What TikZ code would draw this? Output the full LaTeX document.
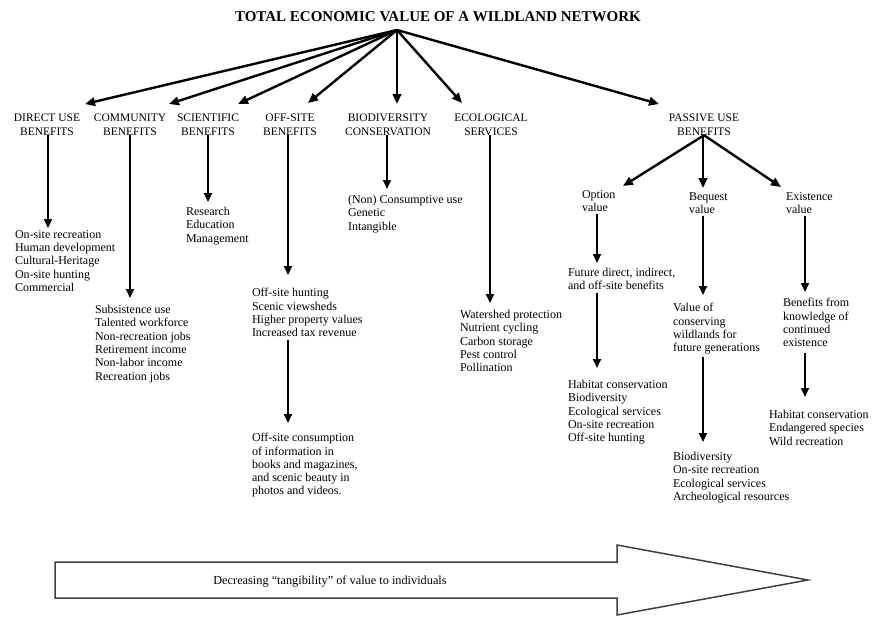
\documentclass[tikz,border=0pt]{standalone}
\usepackage{fontspec}
\setmainfont{Liberation Serif}
\usetikzlibrary{arrows.meta,calc}

\begin{document}
\begin{tikzpicture}[x=1pt,y=-1pt,
  every node/.style={inner sep=0pt,outer sep=0pt},
  hdr/.style={align=center,anchor=north,font=\fontsize{11.5}{13.5}\selectfont},
  lst/.style={align=left,anchor=north west,font=\fontsize{12}{13.3}\selectfont},
  rarrow/.style={line width=2.4pt,-{Triangle[length=10pt,width=8.5pt]}},
  varrow/.style={line width=1.8pt,-{Triangle[length=9pt,width=8pt]}},
  bigarrow/.style={draw=black!75,line width=1.5pt,fill=white},
]
\useasboundingbox[fill=white] (0,0) rectangle (878,616);

% title
\node[font=\fontsize{15}{17}\selectfont\bfseries] (title) at (438,17) {TOTAL ECONOMIC VALUE OF A WILDLAND NETWORK};
\coordinate (root) at (397,30);

% headers
\node[hdr] (dir) at (47,114) {DIRECT USE\\BENEFITS};
\node[hdr] (com) at (130,114) {COMMUNITY\\BENEFITS};
\node[hdr] (sci) at (208,114) {SCIENTIFIC\\BENEFITS};
\node[hdr] (off) at (290,114) {OFF-SITE\\BENEFITS};
\node[hdr] (bio) at (388,114) {BIODIVERSITY\\CONSERVATION};
\node[hdr] (eco) at (491,114) {ECOLOGICAL\\SERVICES};
\node[hdr] (pas) at (704,114) {PASSIVE USE\\BENEFITS};

% arrow ends from root
\coordinate (tdir) at (85,104);
\coordinate (tcom) at (169,104);
\coordinate (tsci) at (238,104);
\coordinate (toff) at (308,103);
\coordinate (tbio) at (397,104);
\coordinate (teco) at (462,103);
\coordinate (tpas) at (659,104);
\foreach \t in {tdir,tcom,tsci,toff,tbio,teco,tpas}
  \draw[rarrow] (root) -- (\t);

% lists
\node[lst] (dirlist) at (15,230.3) {On-site recreation\\Human development\\Cultural-Heritage\\On-site hunting\\Commercial};
\node[lst] (comlist) at (95,305.3) {Subsistence use\\Talented workforce\\Non-recreation jobs\\Retirement income\\Non-labor income\\Recreation jobs};
\node[lst] (scilist) at (186,207.3) {Research\\Education\\Management};
\node[lst] (offlist1) at (252,288.3) {Off-site hunting\\Scenic viewsheds\\Higher property values\\Increased tax revenue};
\node[lst] (offlist2) at (252,433.3) {Off-site consumption\\of information in\\books and magazines,\\and scenic beauty in\\photos and videos.};
\node[lst] (biolist) at (348,195.3) {(Non) Consumptive use\\Genetic\\Intangible};
\node[lst] (ecolist) at (460,310.3) {Watershed protection\\Nutrient cycling\\Carbon storage\\Pest control\\Pollination};

\node[lst] (opt) at (582,190.3) {Option\\value};
\node[lst] (beq) at (689,192.3) {Bequest\\value};
\node[lst] (exi) at (786,192.3) {Existence\\value};

\node[lst] (optlist1) at (568,268.3) {Future direct, indirect,\\and off-site benefits};
\node[lst] (optlist2) at (568,380.3) {Habitat conservation\\Biodiversity\\Ecological services\\On-site recreation\\Off-site hunting};
\node[lst] (beqlist1) at (673,303.3) {Value of\\conserving\\wildlands for\\future generations};
\node[lst] (beqlist2) at (673,452.3) {Biodiversity\\On-site recreation\\Ecological services\\Archeological resources};
\node[lst] (exilist1) at (783,298.3) {Benefits from\\knowledge of\\continued\\existence};
\node[lst] (exilist2) at (769,410.3) {Habitat conservation\\Endangered species\\Wild recreation};

% vertical arrow tips
\coordinate (vdir) at (48,228);
\coordinate (vcom) at (130,298);
\coordinate (vsci) at (208,202);
\coordinate (voff) at (288,275);
\coordinate (voff2) at (288,423);
\coordinate (vbio) at (387,189);
\coordinate (veco) at (490,303);
\coordinate (vopt) at (597,263);
\coordinate (vopt2) at (597,368);
\coordinate (vbeq) at (703,295);
\coordinate (vbeq2) at (703,442);
\coordinate (vexi) at (805,292);
\coordinate (vexi2) at (805,397);

\draw[varrow] (dir.south -| vdir) -- (vdir);
\draw[varrow] (com.south -| vcom) -- (vcom);
\draw[varrow] (sci.south -| vsci) -- (vsci);
\draw[varrow] (off.south -| voff) -- (voff);
\draw[varrow,shorten <=3pt] (offlist1.south -| voff2) -- (voff2);
\draw[varrow] (bio.south -| vbio) -- (vbio);
\draw[varrow] (eco.south -| veco) -- (veco);

% passive use branches
\coordinate (popt) at (623,186);
\coordinate (pbeq) at (703,188);
\coordinate (pexi) at (781,187);
\draw[rarrow] (pas.south) -- (popt);
\draw[rarrow] (pas.south -| pbeq) -- (pbeq);
\draw[rarrow] (pas.south) -- (pexi);

\draw[varrow,shorten <=2pt] (opt.south -| vopt) -- (vopt);
\draw[varrow,shorten <=3pt] (optlist1.south -| vopt2) -- (vopt2);
\draw[varrow,shorten <=2pt] (beq.south -| vbeq) -- (vbeq);
\draw[varrow,shorten <=3pt] (beqlist1.south -| vbeq2) -- (vbeq2);
\draw[varrow,shorten <=2pt] (exi.south -| vexi) -- (vexi);
\draw[varrow,shorten <=6pt] (exilist1.south -| vexi2) -- (vexi2);

% big arrow
\draw[bigarrow] (55,562) -- (617,562) -- (617,545) -- (808,580) -- (617,615) -- (617,598) -- (55,598) -- cycle;
\node[font=\fontsize{12.3}{14}\selectfont] (tang) at (330,581) {Decreasing “tangibility” of value to individuals};
\end{tikzpicture}
\end{document}
